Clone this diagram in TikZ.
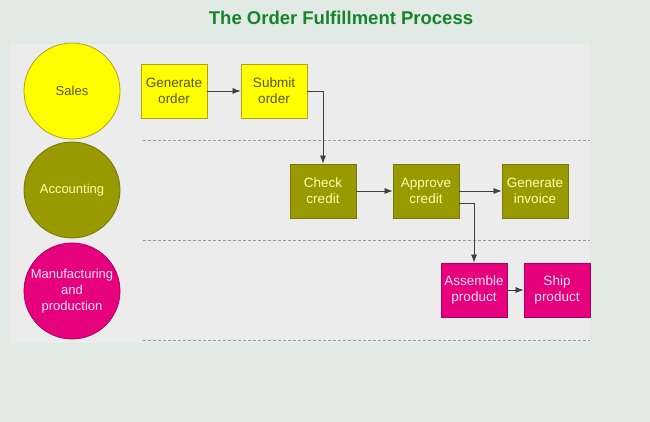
\documentclass[tikz,border=0pt]{standalone}
\usepackage{fontspec}
\setmainfont{Liberation Sans}
\usepackage{xcolor}
\usetikzlibrary{arrows.meta}
\definecolor{bgcol}{RGB}{226,234,229}
\definecolor{panelcol}{RGB}{236,236,236}
\definecolor{titlegreen}{RGB}{22,132,42}
\definecolor{salesfill}{RGB}{255,255,0}
\definecolor{salesline}{RGB}{175,160,20}
\definecolor{salestext}{RGB}{85,85,20}
\definecolor{acctfill}{RGB}{153,153,0}
\definecolor{acctline}{RGB}{120,120,10}
\definecolor{accttext}{RGB}{255,255,170}
\definecolor{mfgfill}{RGB}{230,0,126}
\definecolor{mfgline}{RGB}{170,0,95}
\definecolor{mfgtext}{RGB}{255,225,240}

\begin{document}
\begin{tikzpicture}[x=1pt,y=-1pt,
    sales/.style={fill=salesfill,draw=salesline,text=salestext},
    acct/.style={fill=acctfill,draw=acctline,text=accttext},
    mfg/.style={fill=mfgfill,draw=mfgline,text=mfgtext},
    box/.style={draw,line width=.8pt,minimum width=66pt,minimum height=54pt,inner sep=1pt,align=center,font=\fontsize{13.5}{16}\selectfont},
    lane/.style={circle,draw,line width=.8pt,minimum size=96pt,inner sep=0pt,align=center,font=\fontsize{13}{16}\selectfont},
    flow/.style={draw=black!75,line width=.7pt,-{Latex[length=8pt,width=6pt]}}]
    \useasboundingbox[fill=bgcol] (0,0) rectangle (650,422);
    \fill[panelcol] (10,44) rectangle (590,343);
    \node at(341,18)[font=\fontsize{18.5}{20}\bfseries\selectfont,text=titlegreen](title){The Order Fulfillment Process};
    % swimlane separators
    \foreach \yy in {140,240,340}
        \draw[black!40,line width=.8pt,dash pattern=on 3pt off 2pt] (143,\yy) -- (590,\yy);
    % lanes
    \node at(72,91)[lane,sales](salesl){Sales};
    \node at(72,190)[lane,acct](acctl){Accounting};
    \node at(72,291)[lane,mfg](mfgl){Manufacturing\\and\\production};
    % steps
    \node at(174,91)[box,sales](genorder){Generate\\order};
    \node at(274,91)[box,sales](submit){Submit\\order};
    \node at(323,191)[box,acct](check){Check\\credit};
    \node at(426,191)[box,acct](approve){Approve\\credit};
    \node at(535,191)[box,acct](invoice){Generate\\invoice};
    \node at(474,290)[box,mfg](assemble){Assemble\\product};
    \node at(557,290)[box,mfg](ship){Ship\\product};
    \draw[flow] (genorder) -- (submit);
    \draw[flow] (submit.east) -| (check.north);
    \draw[flow] (check) -- (approve);
    \draw[flow] (approve) -- (invoice);
    \draw[flow] ([yshift=-12pt]approve.east) -| (assemble.north);
    \draw[flow] (assemble) -- (ship);
\end{tikzpicture}
\end{document}
